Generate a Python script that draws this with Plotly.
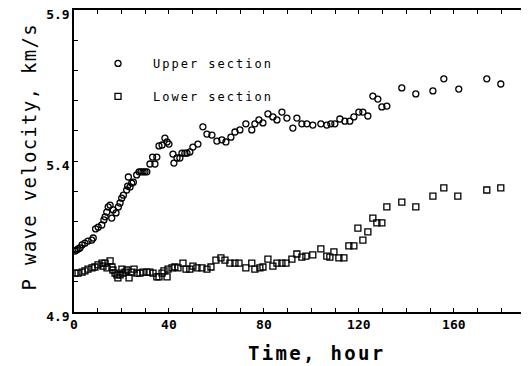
import plotly.graph_objects as go

upper_time = [0.4, 1.1, 1.7, 2.5, 3.4, 4.6, 5.9, 7.5, 8.1, 9.1, 10.2, 11.7, 12.6, 13.1, 13.8, 14.4, 15.2,
              15.9, 16.5, 17.7, 18.7, 19.4, 20.1, 20.8, 22.2, 22.6, 22.9, 23.6, 24.3, 25.0, 26.4, 27.4,
              28.2, 29.1, 29.9, 30.7, 32.0, 33.1, 34.1, 34.9, 35.8, 37.1, 38.3, 39.2, 40.0, 41.7, 42.1,
              43.4, 44.6, 45.5, 46.7, 47.6, 48.8, 50.1, 52.2, 54.3, 56.0, 58.1, 60.2, 62.3, 64.0, 66.1,
              67.8, 69.9, 72.4, 74.9, 76.2, 77.9, 79.6, 81.7, 83.8, 85.5, 87.6, 89.7, 92.2, 93.9, 96.0,
              98.1, 100.6, 104.0, 106.5, 108.2, 109.9, 112.0, 114.1, 116.2, 117.9, 120.0, 121.7, 123.8,
              125.9, 128.0, 129.7, 131.8, 138.1, 144.0, 151.2, 155.8, 162.1, 173.9, 179.8]
upper_vel = [5.102, 5.105, 5.109, 5.112, 5.122, 5.128, 5.135, 5.138, 5.145, 5.175, 5.181, 5.188, 5.205,
             5.215, 5.231, 5.248, 5.254, 5.211, 5.238, 5.228, 5.248, 5.261, 5.277, 5.287, 5.304, 5.317,
             5.347, 5.314, 5.327, 5.330, 5.354, 5.364, 5.364, 5.364, 5.364, 5.364, 5.390, 5.413, 5.390,
             5.413, 5.450, 5.453, 5.476, 5.463, 5.456, 5.423, 5.393, 5.410, 5.410, 5.426, 5.426, 5.426,
             5.430, 5.446, 5.456, 5.513, 5.489, 5.486, 5.466, 5.470, 5.463, 5.479, 5.496, 5.503, 5.523,
             5.503, 5.523, 5.536, 5.526, 5.556, 5.546, 5.536, 5.562, 5.542, 5.509, 5.542, 5.523, 5.523,
             5.519, 5.523, 5.519, 5.523, 5.523, 5.539, 5.532, 5.532, 5.546, 5.562, 5.562, 5.549, 5.615,
             5.605, 5.579, 5.582, 5.642, 5.622, 5.632, 5.672, 5.638, 5.672, 5.655]

lower_time = [0.4, 1.7, 3.4, 4.6, 5.9, 7.6, 8.8, 10.1, 11.8, 12.2, 13.1, 13.9, 15.2, 16.0, 16.4, 17.3,
              18.1, 18.5, 19.4, 20.2, 20.6, 21.5, 22.3, 23.2, 24.4, 25.3, 26.5, 27.8, 29.1, 30.7, 32.0,
              33.3, 34.9, 35.8, 37.1, 37.9, 39.2, 39.6, 41.3, 42.5, 43.8, 45.9, 47.2, 48.8, 50.1, 51.8,
              53.9, 56.0, 57.7, 59.8, 61.9, 63.6, 65.7, 67.8, 69.5, 72.4, 74.9, 76.2, 78.3, 79.6, 81.7,
              83.8, 85.5, 87.6, 89.3, 91.8, 93.9, 96.0, 97.7, 100.6, 104.0, 106.5, 107.8, 109.5, 111.6,
              113.7, 115.8, 117.9, 119.6, 121.7, 123.8, 125.9, 127.6, 129.7, 131.8, 138.1, 144.0, 151.2,
              155.8, 161.7, 173.9, 179.8]
lower_vel = [5.029, 5.029, 5.032, 5.036, 5.042, 5.046, 5.049, 5.056, 5.062, 5.052, 5.062, 5.046, 5.069,
             5.049, 5.039, 5.029, 5.023, 5.013, 5.023, 5.042, 5.029, 5.032, 5.039, 5.013, 5.032, 5.042,
             5.029, 5.029, 5.032, 5.032, 5.032, 5.029, 5.016, 5.016, 5.029, 5.036, 5.016, 5.042, 5.046,
             5.049, 5.046, 5.062, 5.042, 5.042, 5.052, 5.046, 5.046, 5.042, 5.049, 5.072, 5.079, 5.072,
             5.062, 5.062, 5.062, 5.046, 5.062, 5.042, 5.046, 5.049, 5.075, 5.052, 5.062, 5.062, 5.062,
             5.075, 5.092, 5.082, 5.085, 5.089, 5.109, 5.085, 5.082, 5.099, 5.079, 5.079, 5.119, 5.119,
             5.178, 5.138, 5.165, 5.211, 5.195, 5.195, 5.248, 5.264, 5.248, 5.284, 5.311, 5.284, 5.304,
             5.311]

x_ticks = [0, 10, 20, 30, 40, 50, 60, 70, 80, 90, 100, 110, 120, 130, 140, 150, 160, 170, 180]
x_labels = ["0", "", "", "", "40", "", "", "", "80", "", "", "", "120", "", "", "", "160", "", ""]
y_ticks = [4.9, 5.0, 5.1, 5.2, 5.3, 5.4, 5.5, 5.6, 5.7, 5.8, 5.9]
y_labels = ["4.9", "", "", "", "", "5.4", "", "", "", "", "5.9"]

x_title = "Time, hour"
y_title = "P wave velocity, km/s"
series_names = ["Upper section", "Lower section"]

mono = "DejaVu Sans Mono"


def spaced(text, px):
    return '<span style="letter-spacing:%spx">%s</span>' % (px, text)


fig = go.Figure()
fig.add_trace(go.Scatter(
    x=upper_time, y=upper_vel, mode="markers", name=spaced(series_names[0], 2.0),
    marker=dict(symbol="circle-open", size=6, color="black", line=dict(width=1.3, color="black")),
    legendgroup="u"))
fig.add_trace(go.Scatter(
    x=lower_time, y=lower_vel, mode="markers", name=spaced(series_names[1], 2.0),
    marker=dict(symbol="square-open", size=6, color="black", line=dict(width=1.3, color="black")),
    legendgroup="l"))

axis_common = dict(
    showline=True, linecolor="black", linewidth=1.5, mirror="ticks",
    ticks="inside", ticklen=4, tickwidth=1.2, tickcolor="black",
    showgrid=False, zeroline=False, automargin=False, ticklabeloverflow="allow",
    tickfont=dict(family=mono, size=13, color="black", weight="bold"),
)

fig.update_layout(
    width=529, height=366,
    margin=dict(l=66, r=12, t=2, b=62, autoexpand=False),
    paper_bgcolor="white", plot_bgcolor="white",
    xaxis=dict(range=[0, 190], tickmode="array", tickvals=x_ticks, ticktext=x_labels, **axis_common),
    yaxis=dict(range=[4.9, 5.9], tickmode="array", tickvals=y_ticks, ticktext=y_labels,
               ticklabelshift=4, **axis_common),
    showlegend=True,
    legend=dict(x=0.02, y=0.871, xanchor="left", yanchor="top", bgcolor="rgba(0,0,0,0)",
                font=dict(family=mono, size=12, color="black"), itemwidth=60,
                tracegroupgap=14),
    annotations=[
        dict(text=spaced(x_title, 2.3), xref="paper", yref="paper",
             x=(316.5 - 74) / 451, y=(312 - 353) / 302, xanchor="center", yanchor="middle",
             showarrow=False, font=dict(family=mono, size=19, color="black", weight="bold")),
        dict(text=spaced(y_title, 1.3), xref="paper", yref="paper", textangle=-90,
             x=(28 - 74) / 451, y=(312 - 156.5) / 302, xanchor="center", yanchor="middle",
             showarrow=False, font=dict(family=mono, size=19, color="black")),
    ],
)

fig.write_html("out.html")
